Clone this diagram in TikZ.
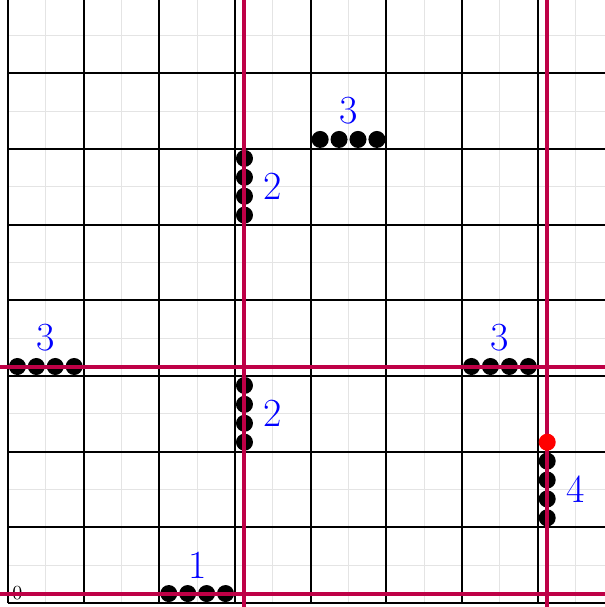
\documentclass[tikz,border=0pt]{standalone}
\usepackage{tikz}
\usepackage{graphicx}
\usetikzlibrary{positioning}
\usepackage{xcolor}
\definecolor{cutred}{RGB}{190,0,70}
\definecolor{gridgray}{HTML}{E4E4E4}

\begin{document}
\begin{tikzpicture}[
  x=0.5cm, y=0.5cm,
  dot/.style={circle, fill=black, minimum size=0.45cm, inner sep=0pt},
  count/.style={text=blue, font=\fontsize{30}{30}\selectfont, inner sep=0pt},
  cut/.style={draw=cutred, line width=3pt}
]
  \clip (-0.42,-0.21) rectangle (31.55,31.87);

  % Grid
  \draw[gridgray, line width=0.7pt] (0,0) grid (33,33);
  \draw[black, line width=1.4pt, step=4] (0,0) grid (33,33);
  \node[inner sep=0pt] (zero) at (0.5,0.5) {\scalebox{1.5}{0}};

  % Horizontal groups
  \foreach \g/\x/\y/\n in {a/8.5/0.5/1, b/16.5/24.5/3, c/0.5/12.5/3, d/24.5/12.5/3} {
    \foreach \i in {0,...,3} {
      \node[dot] (\g\i) at (\x+\i, \y) {};
    }
    \node[count] (lab\g) at (\x+1.5, \y+1.5) {\n};
  }

  % Vertical groups
  \foreach \g/\x/\y/\n in {e/12.5/8.5/2, f/12.5/20.5/2, h/28.5/4.5/4} {
    \foreach \i in {0,...,3} {
      \node[dot] (\g\i) at (\x, \y+\i) {};
    }
    \node[count] (lab\g) at (\x+1.5, \y+1.5) {\n};
  }

  % Cut lines
  \draw[cut] (-1,0.5) -- (33,0.5);
  \draw[cut] (-1,12.5) -- (33,12.5);
  \draw[cut] (12.5,-1) -- (12.5,33);
  \draw[cut] (28.5,-1) -- (28.5,33);

  \node[dot, fill=red] (start) at (28.5,8.5) {};
\end{tikzpicture}
\end{document}
